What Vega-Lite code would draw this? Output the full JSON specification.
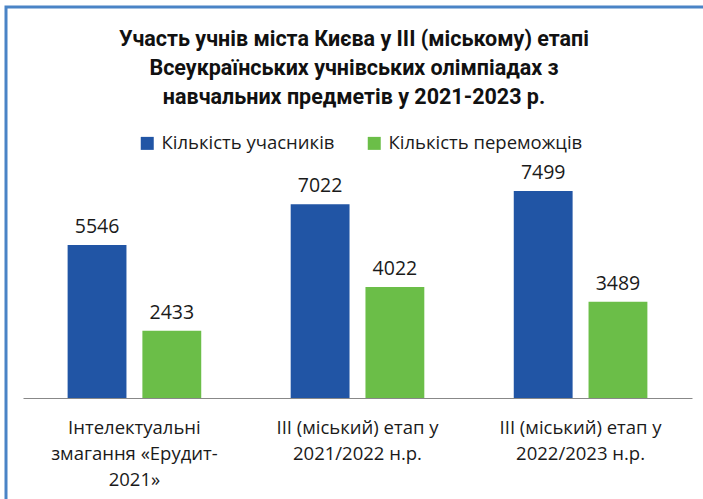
{
  "$schema": "https://vega.github.io/schema/vega-lite/v6.json",
  "width": 710,
  "height": 500,
  "autosize": {"type": "none"},
  "padding": {"left": 6, "top": 7, "right": 0, "bottom": 0},
  "background": "white",
  "title": {
    "text": ["Участь учнів міста Києва у ІІІ (міському) етапі", "Всеукраїнських учнівських олімпіадах з", "навчальних предметів у 2021-2023 р."],
    "anchor": "middle",
    "frame": "group",
    "offset": -101,
    "font": "Roboto",
    "fontSize": 21.5,
    "fontWeight": "bold",
    "color": "#111111",
    "lineHeight": 29,
    "dx": -7
  },
  "data": {
    "values": [
      {"cat": "Інтелектуальні|змагання «Ерудит-|2021»", "series": "Кількість учасників", "value": 5546},
      {"cat": "Інтелектуальні|змагання «Ерудит-|2021»", "series": "Кількість переможців", "value": 2433},
      {"cat": "ІІІ (міський) етап у|2021/2022 н.р.", "series": "Кількість учасників", "value": 7022},
      {"cat": "ІІІ (міський) етап у|2021/2022 н.р.", "series": "Кількість переможців", "value": 4022},
      {"cat": "ІІІ (міський) етап у|2022/2023 н.р.", "series": "Кількість учасників", "value": 7499},
      {"cat": "ІІІ (міський) етап у|2022/2023 н.р.", "series": "Кількість переможців", "value": 3489}
    ]
  },
  "encoding": {
    "x": {
      "field": "cat",
      "type": "nominal",
      "sort": null,
      "scale": {"range": [17, 686], "paddingInner": 0.401, "paddingOuter": 0.2},
      "axis": {
        "title": null,
        "orient": "bottom",
        "offset": -109,
        "labelAngle": 0,
        "ticks": false,
        "tickSize": 0,
        "domainColor": "#888888",
        "domainWidth": 1,
        "labelExpr": "split(datum.label, '|')",
        "labelFont": "Open Sans",
        "labelFontSize": 18.5,
        "labelColor": "#1a1a1a",
        "labelBaseline": "alphabetic",
        "labelPadding": 35,
        "labelLineHeight": 26,
        "labelLimit": 0
      }
    },
    "xOffset": {
      "field": "series",
      "sort": ["Кількість учасників", "Кількість переможців"],
      "scale": {"paddingInner": 0.213, "paddingOuter": 0}
    },
    "y": {
      "field": "value",
      "type": "quantitative",
      "scale": {"domain": [0, 10000], "range": [391, 115]},
      "axis": null
    }
  },
  "layer": [
    {
      "mark": {"type": "bar"},
      "encoding": {
        "color": {
          "field": "series",
          "type": "nominal",
          "sort": ["Кількість учасників", "Кількість переможців"],
          "scale": {"domain": ["Кількість учасників", "Кількість переможців"], "range": ["#2155A5", "#6BBE48"]},
          "legend": {
            "title": null,
            "orient": "none",
            "legendX": 132,
            "legendY": 127,
            "direction": "horizontal",
            "symbolType": "square",
            "symbolSize": 169,
            "symbolStrokeWidth": 0,
            "labelFont": "Open Sans",
            "labelFontSize": 18.5,
            "labelColor": "#1a1a1a",
            "labelOffset": 5,
            "columnPadding": 30,
            "padding": 0,
            "labelLimit": 0
          }
        }
      }
    },
    {
      "mark": {"type": "text", "dy": -12, "baseline": "alphabetic", "font": "Open Sans", "fontSize": 19.5, "color": "#1a1a1a"},
      "encoding": {
        "text": {"field": "value", "type": "quantitative", "format": "d"}
      }
    }
  ],
  "config": {
    "view": {"stroke": "#4A84C6", "strokeWidth": 3}
  }
}
